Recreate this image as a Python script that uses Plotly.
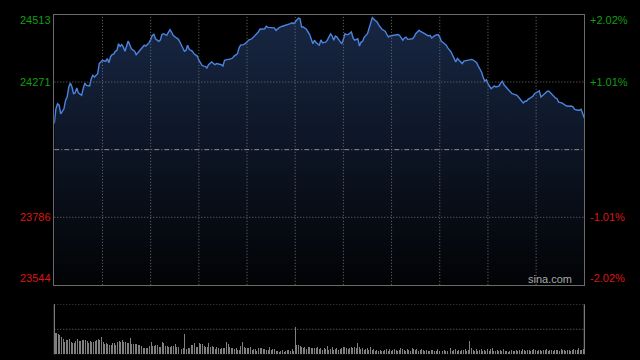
import plotly.graph_objects as go

# ---------------- data ----------------
minutes = [0,1,2,3,4,6,7,8,9,10,11,12,13,14,15,17,18,19,20,22,23,24,25,27,28,29,30,32,33,34,35,36,37,38,39,40,
           41,42,43,44,45,46,48,49,50,51,52,54,55,56,57,59,60,61,62,63,65,66,67,68,70,71,72,73,74,76,77,78,79,81,
           82,83,84,86,87,89,90,92,93,94,95,96,98,99,100,101,103,104,105,106,108,109,111,112,114,115,116,117,118,
           120,121,123,124,126,127,128,130,131,132,133,135,137,138,139,140,142,144,145,147,148,149,150,152,153,154,
           155,157,159,160,161,162,163,165,166,167,169,170,172,173,174,175,176,177,179,180,181,182,183,185,186,187,
           189,190,191,192,193,195,196,197,198,199,201,202,203,204,206,207,208,209,211,212,213,214,215,217,218,219,
           220,222,223,224,225,227,228,229,230,232,233,234,235,237,238,239,240,241,243,244,245,247,248,249,250,251,
           253,254,255,257,258,260,261,263,264,265,266,267,268,269,270,272,273,274,275,277,278,279,280,282,283,284,
           285,287,288,289,290,292,293,294,295,297,298,299,300,302,303,304,306,307,308,309,311,312,313,314,316,317,
           318,319,321,322,323,324,326,327,328,329,330]

index_values = [24122,24175,24193,24188,24157,24175,24205,24217,24253,24267,24253,24229,24232,24250,24232,24223,
                24247,24267,24259,24257,24283,24295,24289,24301,24337,24343,24349,24345,24355,24340,24361,24369,
                24371,24381,24385,24408,24399,24405,24396,24381,24403,24418,24390,24385,24381,24369,24376,24393,
                24399,24403,24400,24412,24423,24438,24442,24426,24417,24421,24441,24444,24438,24448,24459,24450,
                24438,24429,24426,24417,24403,24381,24385,24403,24388,24381,24372,24364,24349,24331,24328,24327,
                24321,24333,24343,24337,24333,24337,24333,24333,24328,24349,24352,24352,24357,24364,24372,24393,
                24403,24403,24405,24414,24421,24426,24432,24441,24450,24460,24460,24462,24471,24467,24466,24465,
                24456,24462,24466,24471,24474,24476,24480,24483,24480,24486,24500,24498,24468,24468,24460,24441,
                24421,24408,24421,24412,24403,24422,24412,24414,24421,24444,24436,24421,24436,24432,24424,24408,
                24424,24444,24441,24441,24450,24429,24421,24426,24400,24414,24417,24432,24444,24462,24486,24502,
                24496,24486,24476,24468,24460,24453,24444,24432,24436,24438,24438,24438,24441,24438,24421,24429,
                24432,24424,24426,24426,24432,24444,24456,24453,24448,24444,24438,24436,24438,24429,24438,24441,
                24441,24432,24417,24408,24403,24393,24379,24367,24355,24343,24355,24345,24337,24346,24349,24351,
                24352,24349,24340,24328,24319,24307,24289,24274,24279,24265,24247,24253,24257,24253,24257,24268,
                24274,24261,24247,24239,24235,24229,24226,24223,24217,24209,24196,24202,24202,24209,24217,24220,
                24229,24233,24239,24217,24223,24232,24238,24238,24232,24217,24214,24211,24199,24196,24193,24188,
                24185,24184,24185,24181,24173,24170,24170,24173,24157,24142]

prev_close = 24028.5
price_range = [23544, 24513]
left_ticks = [24513, 24271, 23786, 23544]
right_ticks = ["+2.02%", "+1.01%", "-1.01%", "-2.02%"]
grid_minutes = [30, 60, 90, 120, 150, 180, 210, 240, 270, 300]
grid_prices = [24271, 23786]

volume = [43,43,41,39,35,30,25,29,29,31,25,22,23,27,31,27,27,29,29,29,26,
          23,27,24,24,27,29,31,29,34,25,21,23,21,19,19,23,23,19,25,27,24,
          29,25,24,22,23,33,21,21,21,20,19,19,17,13,13,13,13,17,25,17,16,
          19,19,15,14,24,22,17,17,15,14,16,17,21,15,14,15,11,13,
          41,
          11,12,12,19,19,22,14,15,22,21,20,17,15,15,22,15,17,14,10,14,12,11,13,
          12,13,24,20,14,13,12,10,12,9,9,17,24,14,12,12,12,14,9,11,10,
          7,12,12,12,11,11,9,9,14,9,10,11,7,7,5,
          7,9,5,7,9,9,7,10,7,
          55,
          19,19,17,14,12,14,10,14,14,12,12,12,12,14,
          10,12,9,12,10,17,9,10,15,9,10,12,9,10,12,14,14,12,10,12,15,12,14,13,
          23,
          15,10,12,9,10,12,9,14,9,10,7,9,7,9,7,7,9,10,7,10,7,9,10,8,7,9,12,10,9,7,10,9,7,12,10,9,11,7,9,
          10,9,7,9,7,7,9,9,7,7,10,7,9,7,9,7,7,10,12,7,9,10,7,9,7,9,8,10,7,9,
          27,
          12,9,7,10,7,9,10,7,9,7,10,7,10,12,7,7,9,7,9,7,10,7,7,5,7,9,7,7,
          8,7,9,7,10,8,7,9,8,7,9,10,8,7,9,8,7,9,8,10,7,8,9,7,8,9,8,7,10,8,9,7,8,9,7,8,10,9,8,12,9,8,11]
volume_range = [0, 100]

# ---------------- figure ----------------
W, H = 640, 360
x_dom = [54.3 / W, 584.3 / W]
main_dom = [1 - 284.8 / H, 1 - 14.5 / H]
vol_dom = [1 - 354.3 / H, 1 - 304.3 / H]

GRID = "#707070"
DOT = "1px,2px"
FONT = "Arial, Liberation Sans, sans-serif"
GREEN = "#119e11"
RED = "#dc1414"

fig = go.Figure()
fig.add_trace(go.Scatter(
    x=minutes, y=index_values, mode="lines",
    line=dict(color="#4a84e0", width=1.4),
    fill="tozeroy",
    fillgradient=dict(type="vertical",
                      colorscale=[[0, "#020305"], [1, "#182744"]],
                      start=price_range[0], stop=price_range[1]),
    hoverinfo="skip", showlegend=False, xaxis="x", yaxis="y"))

fig.add_trace(go.Bar(
    x=list(range(len(volume))), y=volume,
    marker=dict(color="#808080", line=dict(width=0)),
    width=0.62, hoverinfo="skip", showlegend=False, xaxis="x2", yaxis="y2"))

shapes = []
for m in grid_minutes:
    shapes.append(dict(type="line", xref="x", yref="y domain", x0=m, x1=m, y0=0, y1=1,
                       line=dict(color=GRID, width=1, dash=DOT), layer="above"))
for p in grid_prices:
    shapes.append(dict(type="line", xref="x domain", yref="y", x0=0, x1=1, y0=p, y1=p,
                       line=dict(color=GRID, width=1, dash=DOT), layer="above"))
shapes.append(dict(type="line", xref="x domain", yref="y", x0=0, x1=1, y0=prev_close, y1=prev_close,
                   line=dict(color="#8c8c8c", width=1, dash="5px,2px,1px,2px"), layer="above"))
# volume panel frame
for yv in [volume_range[1], volume_range[1] / 2, volume_range[0]]:
    shapes.append(dict(type="line", xref="x2 domain", yref="y2", x0=0, x1=1, y0=yv, y1=yv,
                       line=dict(color=GRID, width=1, dash=DOT), layer="above"))
for xd in [0, 1]:
    shapes.append(dict(type="line", xref="x2 domain", yref="y2 domain", x0=xd, x1=xd, y0=0, y1=1,
                       line=dict(color="#9a9a9a", width=1), layer="above"))

annotations = []
shifts = [-5.5, 0, 0, 7]
for val, pct, ys in zip(left_ticks, right_ticks, shifts):
    col = GREEN if val > prev_close else RED
    annotations.append(dict(text=str(val), xref="paper", yref="y", x=53 / W, y=val, yshift=ys,
                            xanchor="right", yanchor="middle", showarrow=False,
                            font=dict(family=FONT, size=11, color=col)))
    annotations.append(dict(text=pct, xref="paper", yref="y", x=587.5 / W, y=val, yshift=ys,
                            xanchor="left", yanchor="middle", showarrow=False,
                            font=dict(family=FONT, size=11, color=col)))
annotations.append(dict(text="sina.com", xref="x domain", yref="y domain", x=0.98, y=0.0, yshift=6,
                        xanchor="right", yanchor="middle", showarrow=False,
                        font=dict(family=FONT, size=11, color="#a8a8a8")))

fig.update_layout(
    width=W, height=H,
    margin=dict(l=0, r=0, t=0, b=0),
    paper_bgcolor="#000000", plot_bgcolor="#000000",
    showlegend=False, bargap=0,
    xaxis=dict(domain=x_dom, range=[0, 330], anchor="y", showgrid=False, showticklabels=False,
               ticks="", zeroline=False, showline=True, linecolor="#6a6a6a", linewidth=1, mirror=True),
    yaxis=dict(domain=main_dom, range=price_range, anchor="x", showgrid=False, showticklabels=False,
               ticks="", zeroline=False, showline=True, linecolor="#6a6a6a", linewidth=1, mirror=True),
    xaxis2=dict(domain=x_dom, range=[-0.5, len(volume) - 0.5], anchor="y2", showgrid=False,
                showticklabels=False, ticks="", zeroline=False, showline=False),
    yaxis2=dict(domain=vol_dom, range=volume_range, anchor="x2", showgrid=False,
                showticklabels=False, ticks="", zeroline=False, showline=False),
    shapes=shapes,
    annotations=annotations,
)

fig.write_html("out.html",
               config={"displayModeBar": False, "staticPlot": True},
               post_script="document.body.style.margin='0px';document.body.style.background='#000';")
